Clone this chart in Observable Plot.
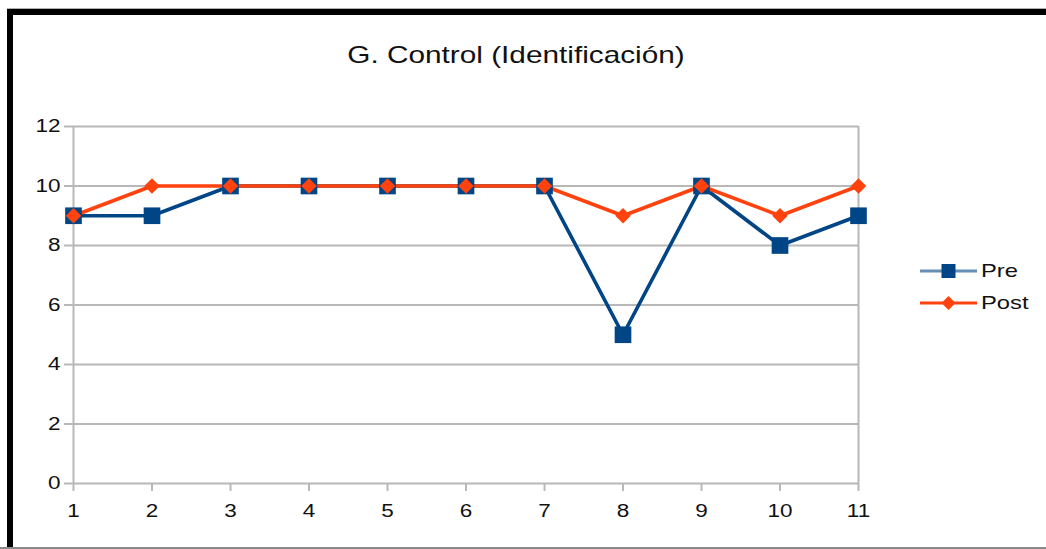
<!DOCTYPE html>
<html>
<head>
<meta charset="utf-8">
<script src="https://cdn.jsdelivr.net/npm/d3@7"></script>
<script src="https://cdn.jsdelivr.net/npm/@observablehq/plot@0.6"></script>
<style>
  html, body { margin: 0; padding: 0; background: #fff; }
  #wrap { position: relative; width: 1046px; height: 549px; overflow: hidden; background: #fff;
          font-family: "Liberation Sans", Arial, sans-serif; color: #111; }
  #chart { position: absolute; left: 0; top: 0; }
  .frame-top { position: absolute; left: 7px; top: 8px; width: 1039px; height: 1px; background: #b0b0b0; }
  .frame-top2 { position: absolute; left: 7px; top: 9px; width: 1039px; height: 6px; background: #000; }
  .frame-left { position: absolute; left: 7px; top: 9px; width: 6px; height: 540px; background: #000; }
  .frame-bottom { position: absolute; left: 0; top: 547px; width: 1046px; height: 2px; background: #8a8a8a; }
  #title { position: absolute; left: -7px; width: 1046px; top: 40px; text-align: center; font-size: 24px; line-height: 30px;
           transform: scaleX(1.24); transform-origin: 50% 50%; }
  #legend { position: absolute; left: 920px; top: 255px; }
  .item { display: flex; align-items: center; height: 32px; font-size: 19px; }
  .item svg { margin-right: 4px; flex: none; }
  .item span { display: inline-block; transform: scaleX(1.25); transform-origin: 0 50%; }
</style>
</head>
<body>
<div id="wrap">
  <div id="chart"></div>
  <div class="frame-top"></div>
  <div class="frame-top2"></div>
  <div class="frame-left"></div>
  <div class="frame-bottom"></div>
  <div id="title">G. Control (Identificación)</div>
  <div id="legend"></div>
</div>
<script>
const categories = [1, 2, 3, 4, 5, 6, 7, 8, 9, 10, 11];
const pre  = [9, 9, 10, 10, 10, 10, 10, 5, 10, 8, 9];
const post = [9, 10, 10, 10, 10, 10, 10, 9, 10, 9, 10];
const yTicks = [0, 2, 4, 6, 8, 10, 12];
const seriesNames = ["Pre", "Post"];
const seriesColors = ["#004586", "#ff420e"];
const seriesSymbols = ["square", "diamond2"];

const rows = [];
categories.forEach((c, i) => {
  rows.push({x: c, y: pre[i], s: "Pre"});
  rows.push({x: c, y: post[i], s: "Post"});
});
const preRows = rows.filter(d => d.s === "Pre");
const postRows = rows.filter(d => d.s === "Post");
const grid = "#b8b8b8";

const plot = Plot.plot({
  width: 1046,
  height: 549,
  marginLeft: 73,
  marginRight: 188,
  marginTop: 126,
  marginBottom: 66,
  style: {fontFamily: "Liberation Sans, Arial, sans-serif", fontSize: "18px", color: "#111", background: "transparent"},
  x: {type: "linear", domain: [1, 11]},
  y: {domain: [0, 12]},
  marks: [
    Plot.ruleY(yTicks, {stroke: grid, strokeWidth: 2}),
    Plot.ruleX([1, 11], {stroke: grid, strokeWidth: 2}),
    Plot.axisY({ticks: yTicks, tickSize: 9, tickPadding: 4, stroke: grid, strokeWidth: 2, fill: "#111", label: null, fontSize: 18}),
    Plot.axisX({ticks: categories, tickSize: 8, tickPadding: 13, stroke: grid, strokeWidth: 2, fill: "#111", label: null, tickFormat: d => String(d), fontSize: 18}),
    Plot.line(preRows, {x: "x", y: "y", stroke: seriesColors[0], strokeWidth: 3.6}),
    Plot.line(postRows, {x: "x", y: "y", stroke: seriesColors[1], strokeWidth: 3.6}),
    Plot.dot(preRows, {x: "x", y: "y", symbol: seriesSymbols[0], r: 9.4, fill: seriesColors[0], stroke: null}),
    Plot.dot(postRows, {x: "x", y: "y", symbol: seriesSymbols[1], r: 7, fill: seriesColors[1], stroke: null})
  ]
});
document.getElementById("chart").appendChild(plot);

// horizontally stretch the tick labels like the reference rendering
d3.select(plot).selectAll("g[aria-label='y-axis tick label'] text, g[aria-label='x-axis tick label'] text").each(function () {
  const el = this;
  const x = +el.getAttribute("x") || 0;
  const y = +el.getAttribute("y") || 0;
  const t = el.getAttribute("transform") || "";
  el.setAttribute("transform", `${t} translate(${x},${y}) scale(1.25,1) translate(${-x},${-y})`);
});

const legend = document.getElementById("legend");
seriesNames.forEach((name, i) => {
  const item = document.createElement("div");
  item.className = "item";
  const sym = i === 0
    ? `<rect x="21.5" y="5" width="14" height="14" fill="${seriesColors[i]}"/>`
    : `<path d="M28.5 5 L35.5 12 L28.5 19 L21.5 12 Z" fill="${seriesColors[i]}"/>`;
  item.innerHTML = `<svg width="57" height="24"><line x1="0" x2="57" y1="12" y2="12" stroke="${seriesColors[i]}" stroke-opacity="${i===0?0.6:1}" stroke-width="3"/>${sym}</svg><span>${name}</span>`;
  legend.appendChild(item);
});
</script>
</body>
</html>
